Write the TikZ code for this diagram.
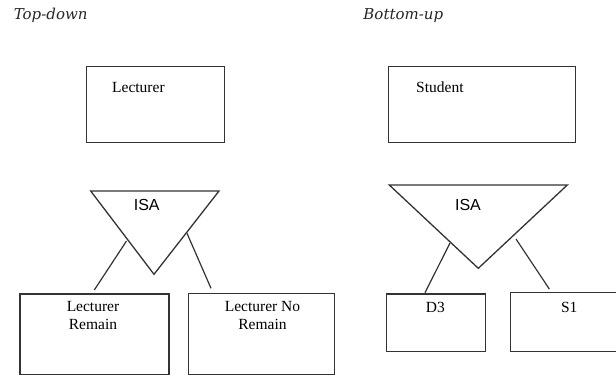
\documentclass[tikz,border=0pt]{standalone}
\usepackage{fontspec}
\setmainfont{Liberation Serif}
\newfontfamily\titlefont{DejaVu Serif}
\newfontfamily\isafont{Liberation Sans}
\begin{document}
\begin{tikzpicture}[x=1pt,y=-1pt,
  frame/.style={draw=black!80, line width=1.3pt},
  box/.style={frame, rectangle, inner sep=0pt, anchor=north west},
  link/.style={draw=black!80, line width=1.2pt},
  heading/.style={inner sep=0pt, text=black!85, font=\titlefont\itshape\fontsize{15}{18}\selectfont},
  entity/.style={inner sep=0pt, align=center, font=\fontsize{15.5}{18.3}\selectfont},
  isa/.style={inner sep=0pt, font=\isafont\fontsize{16}{19}\selectfont},
]
\useasboundingbox (0,0) rectangle (616,376);
\clip (0,0) rectangle (616,376);

% headings
\node[heading] (tdtitle) at (50.7,15.7) {Top-down};
\node[heading] (butitle) at (403.3,15.7) {Bottom-up};

% ---------- top-down ----------
\node[box, minimum width=138.3pt, minimum height=76.3pt] (lect) at (85.7,65.7) {};
\node[entity, anchor=west] (lectlbl) at (112,87) {Lecturer};

\coordinate (ta1) at (90.7,191);
\coordinate (tb1) at (219,191);
\coordinate (tc1) at (154,274.3);
\draw[frame, line join=miter] (ta1) -- (tb1) -- (tc1) -- cycle;
\node[isa] (isa1) at (146.7,205) {ISA};

\node[box, minimum width=149pt, minimum height=80.7pt] (lrem) at (19.3,293.3) {};
\node[entity] (lremlbl) at (93,315.8) {Lecturer\\Remain};
\node[box, minimum width=146.3pt, minimum height=81pt] (lnrem) at (187.7,293) {};
\node[entity] (lnremlbl) at (262.5,315.8) {Lecturer No\\Remain};

\coordinate (s1a) at (126.5,241);
\coordinate (e1a) at (94.3,290);
\coordinate (s1b) at (187,233.3);
\coordinate (e1b) at (211,288.3);
\draw[link] (s1a) -- (e1a);
\draw[link] (s1b) -- (e1b);

% ---------- bottom-up ----------
\node[box, minimum width=187.3pt, minimum height=76.3pt] (stud) at (387.7,65.7) {};
\node[entity, anchor=west] (studlbl) at (416,87) {Student};

\coordinate (ta2) at (389.3,185);
\coordinate (tb2) at (567.3,185);
\coordinate (tc2) at (478.3,268.3);
\draw[frame, line join=miter] (ta2) -- (tb2) -- (tc2) -- cycle;
\node[isa] (isa2) at (468,205) {ISA};

\node[box, minimum width=98.7pt, minimum height=57.7pt] (dthree) at (386,293.3) {};
\node[entity] (dthreelbl) at (435.3,307.3) {D3};
\node[box, minimum width=130pt, minimum height=59pt] (sone) at (510,292) {};
\node[entity] (sonelbl) at (569.3,307) {S1};

\coordinate (s2a) at (450,243);
\coordinate (e2a) at (425,292.7);
\coordinate (s2b) at (516,239);
\coordinate (e2b) at (549.3,289);
\draw[link] (s2a) -- (e2a);
\draw[link] (s2b) -- (e2b);
\end{tikzpicture}
\end{document}
